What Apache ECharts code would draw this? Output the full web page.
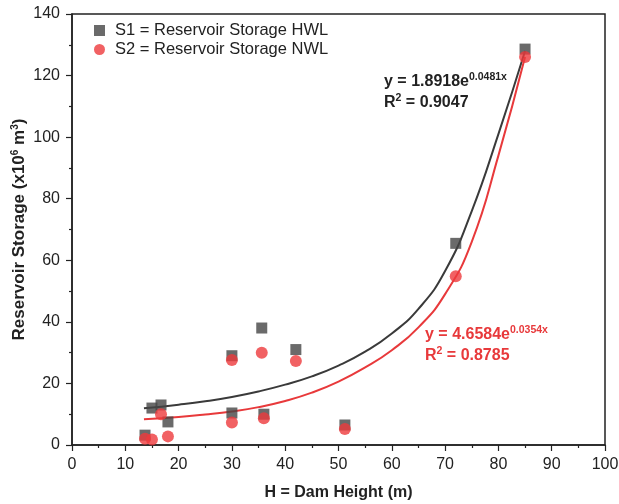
<!DOCTYPE html>
<html>
<head>
<meta charset="utf-8">
<script src="https://cdn.jsdelivr.net/npm/echarts@6/dist/echarts.min.js"></script>
<style>html,body{margin:0;padding:0;background:#fff}#c{width:619px;height:504px}</style>
</head>
<body>
<div id="c"></div>
<script>
// Dam heights (m)
var damHeight = [13.7, 15.0, 16.7, 18.0, 30.0, 30.0, 35.6, 36.0, 42.0, 51.2, 72.0, 85.0];
// S1 = Reservoir Storage HWL (x10^6 m^3)
var storageHWL = [3.2, 12.0, 13.0, 7.5, 29.0, 10.4, 38.0, 10.0, 31.0, 6.5, 65.5, 128.6];
// S2 = Reservoir Storage NWL (x10^6 m^3)
var storageNWL = [2.0, 1.8, 10.0, 2.8, 27.6, 7.3, 30.0, 8.7, 27.3, 5.2, 54.8, 126.0];
// Trend curves
var fitX = [13.5, 20, 25, 30, 35, 40, 45, 50, 55, 60, 65, 70, 75, 80, 85];
var fitHWL = [11.9, 13.1, 14.2, 15.6, 17.4, 19.6, 22.3, 25.8, 30.3, 36.2, 44.2, 56.5, 76.0, 101.0, 128.0];
var fitNWL = [8.4, 9.1, 9.9, 10.9, 12.3, 14.3, 17.0, 20.6, 25.2, 30.8, 38.2, 49.0, 66.0, 94.0, 126.0];
var xTicks = [0, 10, 20, 30, 40, 50, 60, 70, 80, 90, 100];
var yTicks = [0, 20, 40, 60, 80, 100, 120, 140];

function pairs(xs, ys) { return xs.map(function (x, i) { return [x, ys[i]]; }); }

var FONT = 'Liberation Sans, Arial, sans-serif';
var chart = echarts.init(document.getElementById('c'), null, {renderer: 'canvas'});
var axisCommon = {
  axisLine: {show: true, onZero: false, lineStyle: {color: '#222', width: 1.5}},
  axisTick: {show: true, inside: false, length: 6, lineStyle: {color: '#222', width: 1.2}},
  minorTick: {show: true, splitNumber: 2, length: 3, lineStyle: {color: '#222', width: 1.2}},
  splitLine: {show: false},
  axisLabel: {color: '#222', fontSize: 16, fontFamily: FONT}
};
chart.setOption({
  backgroundColor: '#fff',
  animation: false,
  grid: {left: 72, right: 14, top: 14, bottom: 59, containLabel: false, outerBoundsMode: 'none',
    show: true, borderColor: '#222', borderWidth: 1.5, backgroundColor: 'transparent'},
  legend: {
    left: 89, top: 17, orient: 'vertical', itemGap: 2, itemWidth: 11, itemHeight: 11,
    textStyle: {fontSize: 16.5, fontFamily: FONT, color: '#222', padding: [0, 0, 0, 5]},
    data: [{name: 'S1 = Reservoir Storage HWL', icon: 'rect'}, {name: 'S2 = Reservoir Storage NWL', icon: 'circle'}]
  },
  xAxis: Object.assign({}, axisCommon, {
    type: 'value', min: xTicks[0], max: xTicks[xTicks.length - 1], interval: 10,
    name: 'H = Dam Height (m)', nameLocation: 'middle', nameGap: 40, nameMoveOverlap: false,
    nameTextStyle: {fontSize: 16, fontWeight: 'bold', fontFamily: FONT, color: '#222'},
    axisLabel: Object.assign({}, axisCommon.axisLabel, {margin: 12})
  }),
  yAxis: Object.assign({}, axisCommon, {
    type: 'value', min: yTicks[0], max: yTicks[yTicks.length - 1], interval: 20,
    name: 'Reservoir Storage (x10{sup|6} m{sup|3})', nameLocation: 'middle', nameGap: 43, nameMoveOverlap: false,
    nameTextStyle: {fontSize: 17, fontWeight: 'bold', fontFamily: FONT, color: '#222',
      rich: {sup: {fontSize: 10, fontWeight: 'bold', fontFamily: FONT, color: '#222', padding: [0, 0, 9, 0]}}},
    axisLabel: Object.assign({}, axisCommon.axisLabel, {margin: 12})
  }),
  series: [
    {name: 'fitHWL', type: 'line', data: pairs(fitX, fitHWL), smooth: 0.5, showSymbol: false, symbol: 'none',
      lineStyle: {color: '#3a3a3a', width: 2}, z: 2, silent: true},
    {name: 'fitNWL', type: 'line', data: pairs(fitX, fitNWL), smooth: 0.5, showSymbol: false, symbol: 'none',
      lineStyle: {color: '#e8393b', width: 2}, z: 2, silent: true},
    {name: 'S1 = Reservoir Storage HWL', type: 'scatter', symbol: 'rect', symbolSize: 11,
      itemStyle: {color: '#454545'}, data: pairs(damHeight, storageHWL), z: 3},
    {name: 'S2 = Reservoir Storage NWL', type: 'scatter', symbol: 'circle', symbolSize: 12,
      itemStyle: {color: '#ee3a3c'}, data: pairs(damHeight, storageNWL), z: 4}
  ],
  graphic: [
    {type: 'text', left: 384, top: 72, style: {
      text: '{a|y = 1.8918e}{b|0.0481x}\n{a|R}{b|2}{a| = 0.9047}',
      rich: {a: {fontSize: 16, fontWeight: 'bold', fontFamily: FONT, fill: '#222', lineHeight: 21},
             b: {fontSize: 10.5, fontWeight: 'bold', fontFamily: FONT, fill: '#222', padding: [0, 0, 9, 0], lineHeight: 21}}}},
    {type: 'text', left: 425, top: 325, style: {
      text: '{a|y = 4.6584e}{b|0.0354x}\n{a|R}{b|2}{a| = 0.8785}',
      rich: {a: {fontSize: 16, fontWeight: 'bold', fontFamily: FONT, fill: '#e8393b', lineHeight: 21},
             b: {fontSize: 10.5, fontWeight: 'bold', fontFamily: FONT, fill: '#e8393b', padding: [0, 0, 9, 0], lineHeight: 21}}}}
  ]
});
</script>
</body>
</html>
